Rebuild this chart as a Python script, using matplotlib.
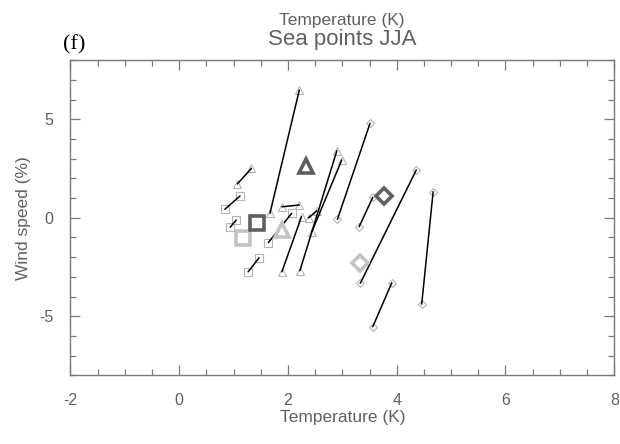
import matplotlib
matplotlib.use("Agg")
import matplotlib.pyplot as plt
from matplotlib.ticker import MultipleLocator

plt.rcParams['font.family'] = ['Liberation Sans', 'DejaVu Sans']
plt.rcParams['axes.unicode_minus'] = False

# change pairs: (temperature, wind speed) for the first experiment
# and the second experiment, one list per marker kind
sq_t0 = [0.84, 0.94, 1.64, 1.27]
sq_w0 = [0.43, -0.48, -1.26, -2.74]
sq_t1 = [1.12, 1.05, 2.07, 1.47]
sq_w1 = [1.11, -0.11, 0.23, -2.03]

tri_t0 = [1.07, 1.67, 1.89, 1.89, 2.22, 2.44, 2.38]
tri_w0 = [1.72, 0.23, 0.56, -2.74, -2.69, -0.71, 0.00]
tri_t1 = [1.33, 2.21, 2.21, 2.25, 2.90, 2.99, 2.53]
tri_w1 = [2.51, 6.49, 0.65, 0.06, 3.41, 2.94, 0.35]

dia_t0 = [2.91, 3.31, 3.33, 4.46, 3.56]
dia_w0 = [-0.08, -0.45, -3.33, -4.38, -5.53]
dia_t1 = [3.51, 3.56, 4.36, 4.67, 3.91]
dia_w1 = [4.80, 1.04, 2.43, 1.33, -3.30]

# group means
mean_kind = ['s', '^', 'D']
mean_t0 = [1.17, 1.89, 3.33]
mean_w0 = [-1.04, -0.62, -2.28]
mean_t1 = [1.43, 2.33, 3.77]
mean_w1 = [-0.25, 2.63, 1.11]

light = '#b4b4b4'
gray = '#7a7a7a'
txt = '#606060'

fig = plt.figure(figsize=(6.2, 4.44), dpi=100)
ax = fig.add_axes([0.1134, 0.1547, 0.8774, 0.7095])

groups = [('s', sq_t0, sq_w0, sq_t1, sq_w1, 5.5),
          ('^', tri_t0, tri_w0, tri_t1, tri_w1, 6.0),
          ('D', dia_t0, dia_w0, dia_t1, dia_w1, 4.0)]

for mk, t0, w0, t1, w1, ms in groups:
    ax.plot(t0, w0, ls='none', marker=mk, ms=ms, mfc='white', mec=light,
            mew=0.8, zorder=2)
    ax.plot(t1, w1, ls='none', marker=mk, ms=ms, mfc='white', mec=light,
            mew=0.8, zorder=2)
    for a, b, c, d in zip(t0, w0, t1, w1):
        ax.plot([a, c], [b, d], color='black', lw=1.1, zorder=3,
                solid_capstyle='round')

for mk, a, b, c, d in zip(mean_kind, mean_t0, mean_w0, mean_t1, mean_w1):
    ms = 10.5 if mk != 'D' else 8.5
    ax.plot(a, b, marker=mk, ms=ms, mfc='none', mec='#c4c4c4', mew=2.6, zorder=4)
    ax.plot(c, d, marker=mk, ms=ms, mfc='none', mec='#5e5e5e', mew=2.6, zorder=4)

ax.set_xlim(-2, 8)
ax.set_ylim(-8, 8)
ax.xaxis.set_major_locator(MultipleLocator(2))
ax.xaxis.set_minor_locator(MultipleLocator(0.5))
ax.yaxis.set_major_locator(MultipleLocator(5))
ax.yaxis.set_minor_locator(MultipleLocator(1))

for s in ax.spines.values():
    s.set_color(gray)
    s.set_linewidth(1.0)
ax.tick_params(which='both', direction='in', top=True, right=True,
               color=gray, labelcolor=txt, labelsize=11.5)
ax.tick_params(which='major', length=7, width=0.9)
ax.tick_params(which='minor', length=4, width=0.9)
ax.tick_params(axis='x', which='major', pad=13)
ax.tick_params(axis='y', which='major', pad=12)

ax.set_xlabel('Temperature (K)', fontsize=12.5, color=txt, labelpad=1)
ax.set_ylabel('Wind speed (%)', fontsize=12.5, color=txt, labelpad=6)

fig.text(0.5518, 1 - 21 / 444, 'Temperature (K)', ha='center', va='center',
         fontsize=12.5, color=txt)
fig.text(0.5518, 1 - 39 / 444, 'Sea points JJA', ha='center', va='center',
         fontsize=16, color=txt)
fig.text(63 / 620, 1 - 45 / 444, '(f)', ha='left', va='center',
         fontsize=16, color='black', family='Liberation Serif')

fig.savefig('out.png', dpi=100)
